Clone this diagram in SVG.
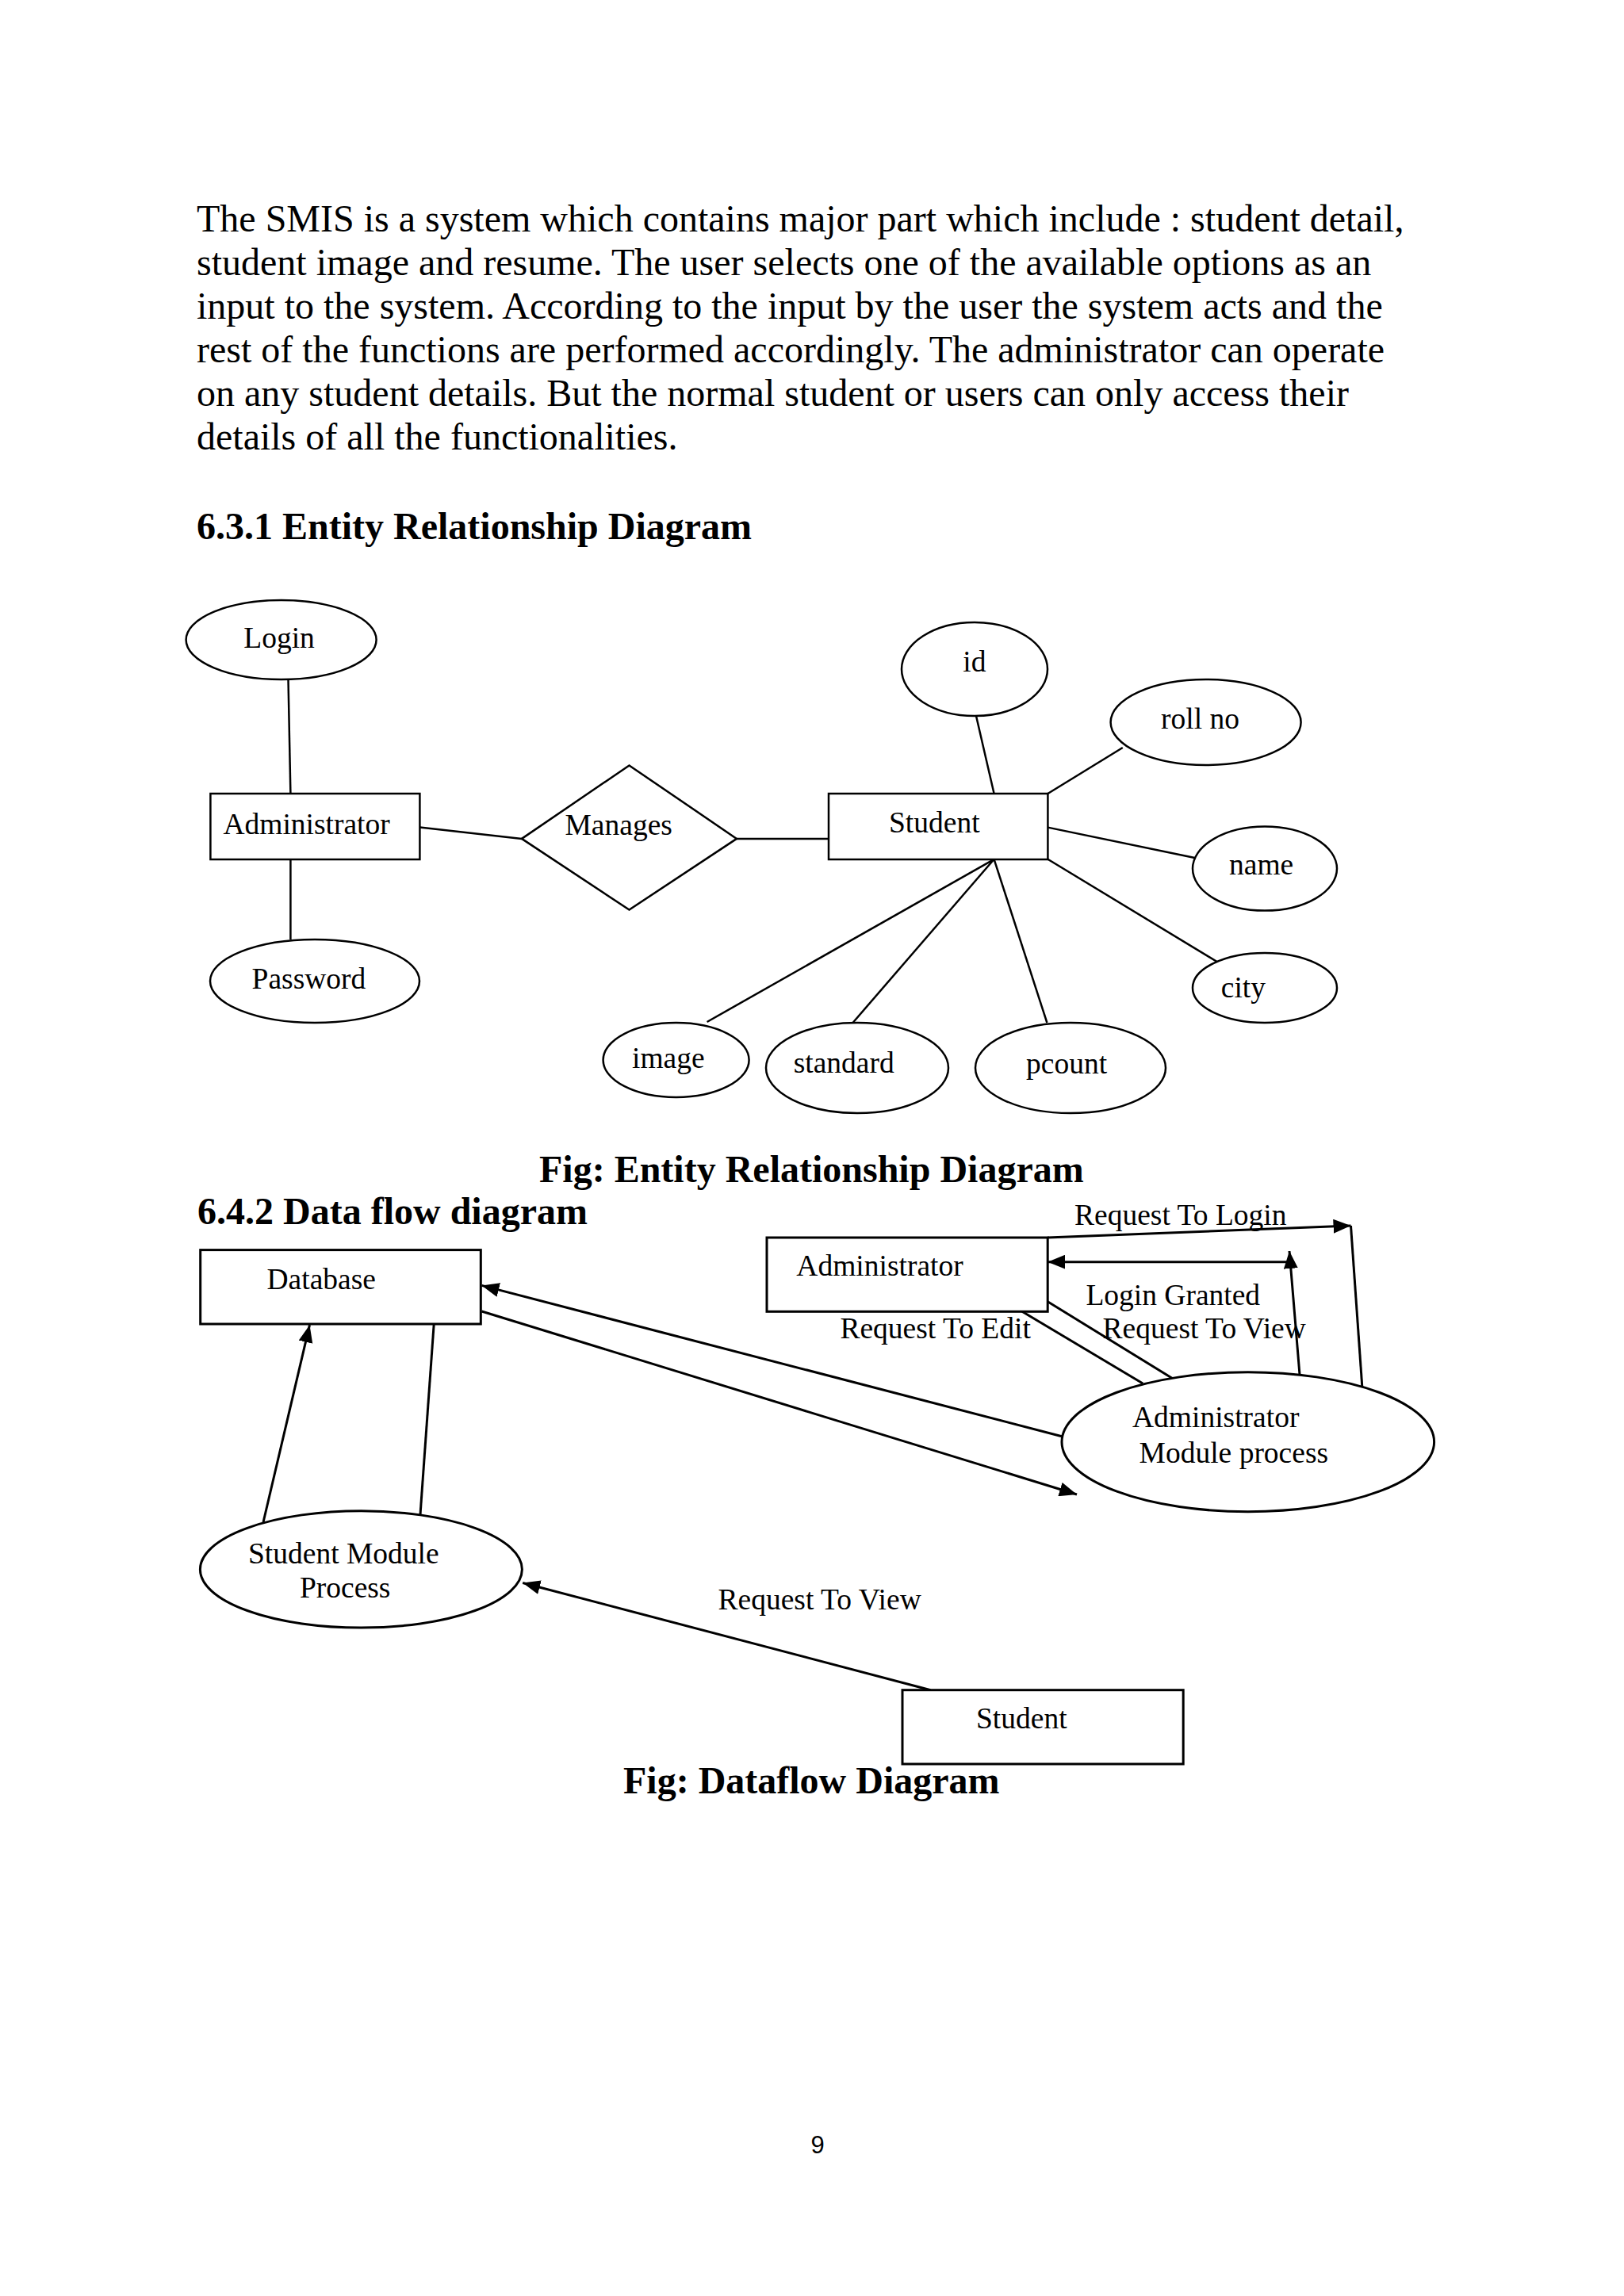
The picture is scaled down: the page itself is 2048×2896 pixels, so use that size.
<svg xmlns="http://www.w3.org/2000/svg" width="2048" height="2896" viewBox="0 0 2048 2896">
<style>
text{font-family:"Liberation Serif","Times New Roman",serif;fill:#000}
.p{font-size:48px}
.h{font-size:48px;font-weight:bold}
.l{font-size:37.5px}
.er{fill:#fff;stroke:#000;stroke-width:2.5}
.erl{stroke:#000;stroke-width:2.5;fill:none}
.df{fill:#fff;stroke:#000;stroke-width:3}
.dfl{stroke:#000;stroke-width:3;fill:none}
.ar{marker-end:url(#arr)}
</style>
<defs>
<marker id="arr" markerUnits="userSpaceOnUse" markerWidth="22" markerHeight="18" refX="22" refY="9" orient="auto" viewBox="0 0 22 18">
<path d="M0,0 L22,9 L0,18 z" fill="#000"/>
</marker>
</defs>
<rect width="2048" height="2896" fill="#fff"/>

<g id="paragraph" class="p">
<text x="248" y="292" class="p">The SMIS is a system which contains major part which include : student detail,</text>
<text x="248" y="347" class="p">student image and resume. The user selects one of the available options as an</text>
<text x="248" y="402" class="p">input to the system. According to the input by the user the system acts and the</text>
<text x="248" y="457" class="p">rest of the functions are performed accordingly. The administrator can operate</text>
<text x="248" y="512" class="p">on any student details. But the normal student or users can only access their</text>
<text x="248" y="567" class="p">details of all the functionalities.</text>
</g>
<text x="248" y="680" class="h">6.3.1 Entity Relationship Diagram</text>

<g id="er-connectors">
<line class="erl" x1="363.5" y1="857" x2="366.4" y2="1001"/>
<line class="erl" x1="366.4" y1="1084" x2="366.4" y2="1185"/>
<line class="erl" x1="529.4" y1="1043.6" x2="658" y2="1057.9"/>
<line class="erl" x1="929" y1="1057.9" x2="1045" y2="1057.9"/>
<line class="erl" x1="1231" y1="903" x2="1253.6" y2="1001"/>
<line class="erl" x1="1415.8" y1="943" x2="1321.4" y2="1001"/>
<line class="erl" x1="1321.4" y1="1043.6" x2="1506.6" y2="1082"/>
<line class="erl" x1="1321.4" y1="1083.8" x2="1534.7" y2="1213"/>
<line class="erl" x1="1253.6" y1="1083.8" x2="891.6" y2="1289"/>
<line class="erl" x1="1253.6" y1="1083.8" x2="1075.5" y2="1290"/>
<line class="erl" x1="1253.6" y1="1083.8" x2="1320.4" y2="1290"/>
</g>

<g id="er-login"><ellipse class="er" cx="354.6" cy="807" rx="120" ry="50"/><text class="l" x="307.3" y="817">Login</text></g>
<g id="er-administrator"><rect class="er" x="265.4" y="1001" width="264" height="83"/><text class="l" x="281.4" y="1051.6">Administrator</text></g>
<g id="er-password"><ellipse class="er" cx="397" cy="1237.5" rx="132" ry="52.5"/><text class="l" x="317.6" y="1246.7">Password</text></g>
<g id="er-manages"><polygon class="er" points="658,1057.9 793.5,965.4 929,1057.9 793.5,1147.6"/><text class="l" x="712.5" y="1052.5">Manages</text></g>
<g id="er-student"><rect class="er" x="1045" y="1001" width="276.4" height="83"/><text class="l" x="1121" y="1050">Student</text></g>
<g id="er-id"><ellipse class="er" cx="1229" cy="844" rx="92" ry="59"/><text class="l" x="1214.3" y="847">id</text></g>
<g id="er-rollno"><ellipse class="er" cx="1520.6" cy="911" rx="120" ry="54"/><text class="l" x="1464" y="918.6">roll no</text></g>
<g id="er-name"><ellipse class="er" cx="1595" cy="1095.6" rx="91" ry="53"/><text class="l" x="1550" y="1102.5">name</text></g>
<g id="er-city"><ellipse class="er" cx="1595" cy="1246" rx="91" ry="44"/><text class="l" x="1539.8" y="1258">city</text></g>
<g id="er-image"><ellipse class="er" cx="852.6" cy="1337" rx="92" ry="47"/><text class="l" x="797" y="1347">image</text></g>
<g id="er-standard"><ellipse class="er" cx="1081" cy="1347" rx="115" ry="57"/><text class="l" x="1000.7" y="1352.5">standard</text></g>
<g id="er-pcount"><ellipse class="er" cx="1350" cy="1347" rx="120" ry="57"/><text class="l" x="1294" y="1353.8">pcount</text></g>

<text x="680" y="1491" class="h">Fig: Entity Relationship Diagram</text>
<text x="249" y="1544" class="h">6.4.2 Data flow diagram</text>

<g id="dfd-connectors">
<line class="dfl ar" x1="1321.2" y1="1561" x2="1703.5" y2="1546"/>
<line class="dfl" x1="1703.5" y1="1546" x2="1717.8" y2="1749"/>
<line class="dfl ar" x1="1639" y1="1734" x2="1626" y2="1578"/>
<line class="dfl ar" x1="1626" y1="1591.7" x2="1321.2" y2="1591.7"/>
<line class="dfl" x1="1289" y1="1654.3" x2="1441.2" y2="1745"/>
<line class="dfl" x1="1321.2" y1="1641.7" x2="1478" y2="1738.3"/>
<line class="dfl ar" x1="1339" y1="1811.7" x2="607.5" y2="1621.4"/>
<line class="dfl ar" x1="607.5" y1="1654" x2="1358" y2="1885"/>
<line class="dfl ar" x1="332" y1="1920" x2="390.5" y2="1671.2"/>
<line class="dfl" x1="547.2" y1="1670" x2="530" y2="1910.4"/>
<line class="dfl ar" x1="1173.6" y1="2131.7" x2="659.2" y2="1996.5"/>
</g>

<g id="dfd-database"><rect class="df" x="252.7" y="1576.6" width="353.6" height="93.4"/><text class="l" x="336.5" y="1626.4">Database</text></g>
<g id="dfd-administrator"><rect class="df" x="967" y="1561" width="354.2" height="93.3"/><text class="l" x="1004.3" y="1609.3">Administrator</text></g>
<g id="dfd-admin-process"><ellipse class="df" cx="1573.8" cy="1818.7" rx="234.8" ry="88"/><text class="l" x="1428" y="1800">Administrator</text><text class="l" x="1436.6" y="1845">Module process</text></g>
<g id="dfd-student-process"><ellipse class="df" cx="455.4" cy="1979.4" rx="203" ry="73.7"/><text class="l" x="313" y="1971.6">Student Module</text><text class="l" x="377.9" y="2014.5">Process</text></g>
<g id="dfd-student"><rect class="df" x="1138" y="2131.7" width="354.2" height="93.3"/><text class="l" x="1231" y="2180">Student</text></g>

<g id="dfd-labels">
<text class="l" x="1355" y="1545">Request To Login</text>
<text class="l" x="1369.4" y="1646">Login Granted</text>
<text class="l" x="1059.4" y="1688.3">Request To Edit</text>
<text class="l" x="1390.6" y="1688.3">Request To View</text>
<text class="l" x="905.5" y="2030">Request To View</text>
</g>

<text x="786" y="2262" class="h">Fig: Dataflow Diagram</text>
<text x="1031" y="2716" text-anchor="middle" style="font-family:'Liberation Sans','Noto Sans',sans-serif;font-size:31px">9</text>
</svg>
